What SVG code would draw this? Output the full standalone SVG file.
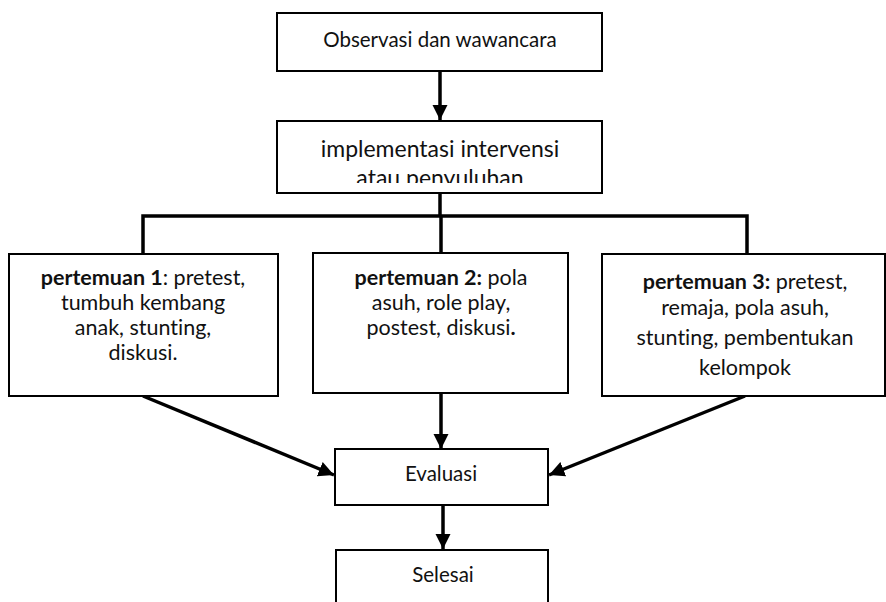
<svg xmlns="http://www.w3.org/2000/svg" width="886" height="602" viewBox="0 0 886 602">
<style>
.box{fill:#fff;stroke:#000;stroke-width:2}
.t{font-family:Lato,"Liberation Sans",sans-serif;font-size:21.5px;fill:#111;text-anchor:middle;font-variant-ligatures:none}
.s{font-size:20.5px}
.l{font-size:23px}
.b{font-weight:bold}
.c{fill:none;stroke:#000;stroke-width:3.5}
</style>
<defs>
<marker id="ah" viewBox="0 0 10 10" refX="10" refY="5" markerWidth="4.4" markerHeight="4.4" orient="auto" markerUnits="strokeWidth">
<path d="M0,0 L10,5 L0,10 z" fill="#000"/>
</marker>
<clipPath id="clip2"><rect x="277" y="121" width="325" height="62"/></clipPath>
<clipPath id="clipR"><rect x="602" y="254" width="283" height="131"/></clipPath>
</defs>
<rect width="886" height="602" fill="#fff"/>
<g id="connectors">
<line class="c" x1="440" y1="71" x2="440" y2="120" marker-end="url(#ah)"/>
<polyline class="c" points="440,193 440,216"/>
<polyline class="c" points="143,254 143,216 747,216 747,254"/>
<line class="c" x1="441" y1="216" x2="441" y2="253"/>
<line class="c" x1="441" y1="393" x2="441" y2="449" marker-end="url(#ah)"/>
<line class="c" x1="143" y1="396" x2="334" y2="475" marker-end="url(#ah)"/>
<line class="c" x1="745" y1="396" x2="549" y2="475" marker-end="url(#ah)"/>
<line class="c" x1="443" y1="505" x2="443" y2="549" marker-end="url(#ah)"/>
</g>
<g id="n-observasi">
<rect class="box" x="277" y="13" width="325" height="58"/>
<text class="t s" x="440" y="47">Observasi dan wawancara</text>
</g>
<g id="n-implementasi">
<rect class="box" x="277" y="121" width="325" height="72"/>
<g clip-path="url(#clip2)">
<text class="t l" x="440" y="157">implementasi intervensi</text>
<text class="t l" x="440" y="186">atau penyuluhan</text>
</g>
</g>
<g id="n-pertemuan1">
<rect class="box" x="9" y="254" width="269" height="142"/>
<text class="t" x="143" y="285"><tspan class="b">pertemuan 1</tspan>: pretest,</text>
<text class="t" x="143" y="310">tumbuh kembang</text>
<text class="t" x="143" y="335">anak, stunting,</text>
<text class="t" x="143" y="360">diskusi.</text>
</g>
<g id="n-pertemuan2">
<rect class="box" x="313" y="253" width="255" height="140"/>
<text class="t" x="441" y="285"><tspan class="b">pertemuan 2:</tspan> pola</text>
<text class="t" x="441" y="310">asuh, role play,</text>
<text class="t" x="441" y="335">postest, diskusi<tspan class="b">.</tspan></text>
</g>
<g id="n-pertemuan3">
<rect class="box" x="602" y="254" width="283" height="142"/>
<g clip-path="url(#clipR)">
<text class="t" x="745" y="289"><tspan class="b">pertemuan 3:</tspan> pretest,</text>
<text class="t" x="745" y="315">remaja, pola asuh,</text>
<text class="t" x="745" y="345">stunting, pembentukan</text>
<text class="t" x="745" y="375">kelompok</text>
</g>
</g>
<g id="n-evaluasi">
<rect class="box" x="335" y="449" width="213" height="56"/>
<text class="t s" x="441" y="481">Evaluasi</text>
</g>
<g id="n-selesai">
<rect class="box" x="336" y="550" width="212" height="60"/>
<text class="t s" x="443" y="582">Selesai</text>
</g>
</svg>
